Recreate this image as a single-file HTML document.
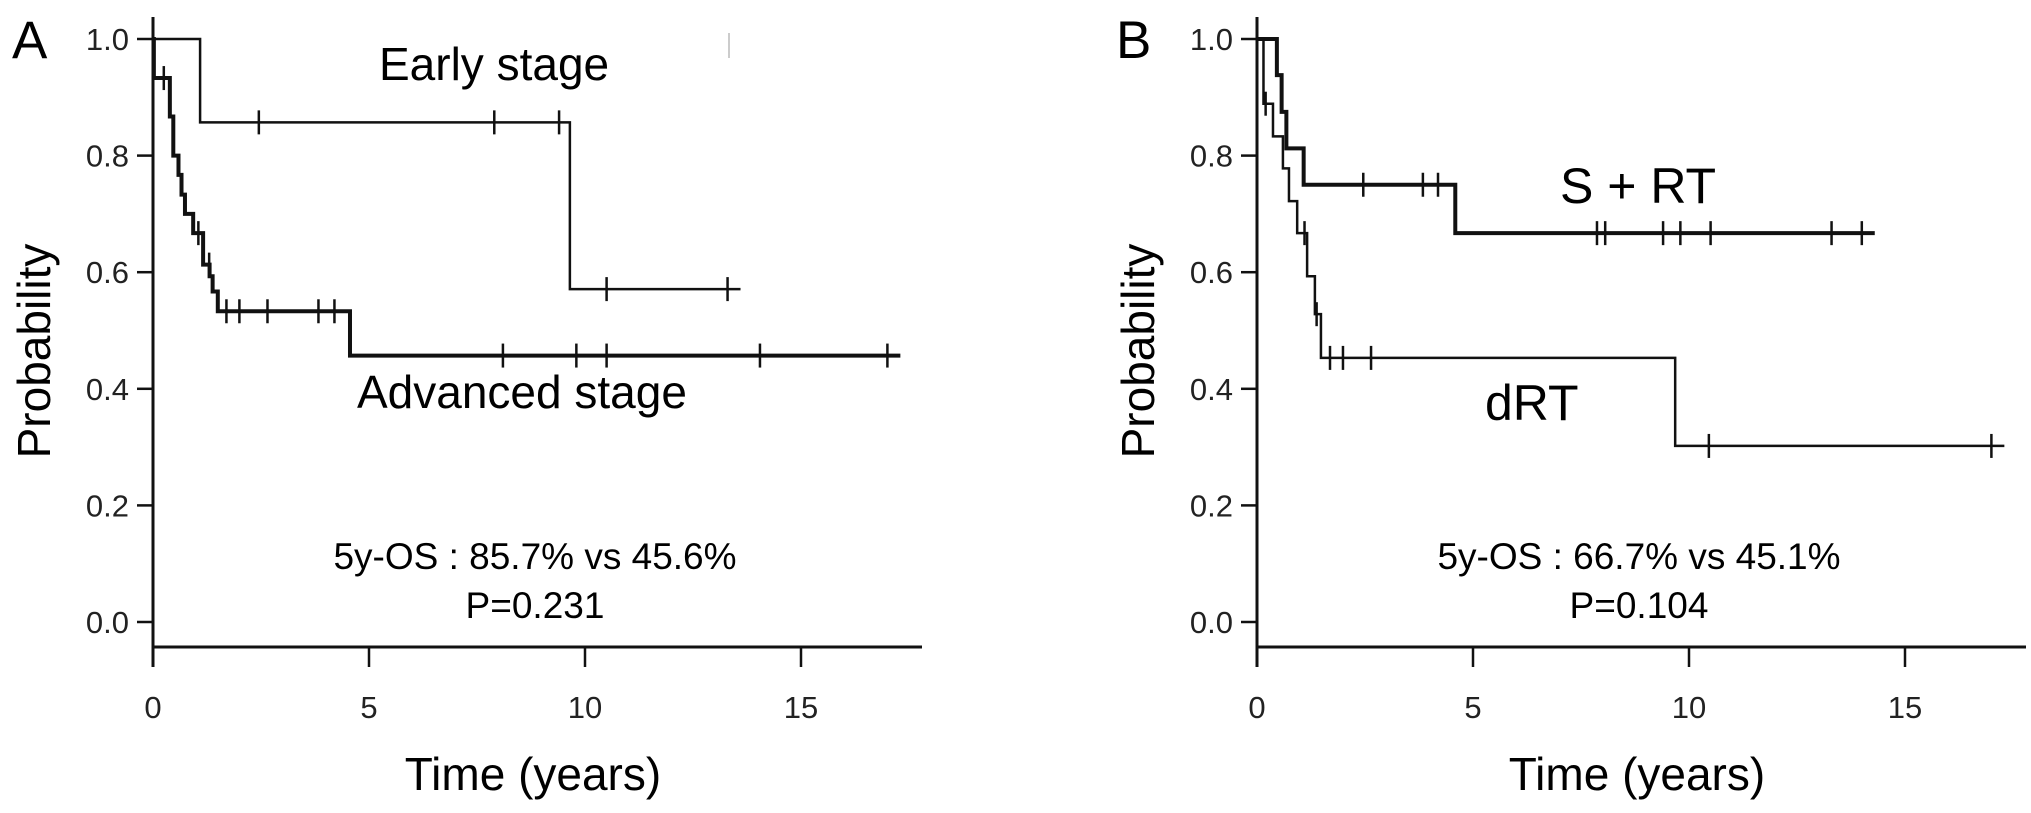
<!DOCTYPE html>
<html><head><meta charset="utf-8"><style>
html,body{margin:0;padding:0;background:#fff;}
svg{display:block;font-family:"Liberation Sans",Arial,sans-serif;}
</style></head><body>
<svg id="chart" width="2031" height="813" viewBox="0 0 2031 813" xmlns="http://www.w3.org/2000/svg">
<rect width="2031" height="813" fill="#fff"/>
<g id="pA"></g>
<g id="pB"></g>
</svg>
<script>
// ---------- data ----------
const xTicks = [0, 5, 10, 15];
const yTicks = [0.0, 0.2, 0.4, 0.6, 0.8, 1.0];
const yTickLabels = ["0.0", "0.2", "0.4", "0.6", "0.8", "1.0"];

const earlyT = [0, 1.09, 9.65];
const earlyS = [1.0, 0.857, 0.571];
const earlyEnd = 13.6;
const earlyCens = [2.45, 7.9, 9.4, 10.5, 13.3];

const advT = [0, 0.02, 0.39, 0.47, 0.59, 0.66, 0.74, 0.93, 1.16, 1.31, 1.38, 1.5, 4.56];
const advS = [1.0, 0.933, 0.867, 0.8, 0.767, 0.733, 0.7, 0.667, 0.613, 0.593, 0.567, 0.533, 0.457];
const advEnd = 17.3;
const advCens = [0.25, 1.05, 1.3, 1.7, 2.0, 2.65, 3.83, 4.2, 8.1, 9.8, 10.5, 14.05, 17.0];

const srtT = [0, 0.46, 0.57, 0.68, 1.08, 4.59];
const srtS = [1.0, 0.938, 0.875, 0.8125, 0.75, 0.667];
const srtEnd = 14.3;
const srtCens = [2.46, 3.84, 4.19, 7.87, 8.06, 9.4, 9.8, 10.5, 13.3, 14.0];

const drtT = [0, 0.15, 0.37, 0.6, 0.74, 0.93, 1.16, 1.34, 1.48, 9.68];
const drtS = [1.0, 0.889, 0.833, 0.778, 0.722, 0.667, 0.593, 0.528, 0.453, 0.302];
const drtEnd = 17.3;
const drtCens = [0.2, 1.1, 1.38, 1.69, 1.99, 2.64, 10.46, 17.0];

// ---------- drawing ----------
const NS = "http://www.w3.org/2000/svg";
const Y0 = 622, YH = 583, PXY = 43.2;
function mk(parent, tag, attrs, text) {
  const e = document.createElementNS(NS, tag);
  for (const k in attrs) e.setAttribute(k, attrs[k]);
  if (text !== undefined) e.textContent = text;
  parent.appendChild(e);
  return e;
}
function stepAt(T, S, t) { let v = S[0]; for (let i = 0; i < T.length; i++) if (T[i] <= t) v = S[i]; return v; }

function panel(g, ox, letter, series, stats, pval, labels) {
  const X = t => ox + t * PXY;
  const Y = p => Y0 - p * YH;
  let e;
  e = mk(g, "text", {x: ox - 141, y: 58, "font-size": 53}, letter);
  
  
  // axes
  e = mk(g, "line", {x1: ox, y1: 17, x2: ox, y2: 667, stroke: "#111", "stroke-width": 3});
  
  
  e = mk(g, "line", {x1: ox, y1: 647, x2: ox + 769, y2: 647, stroke: "#111", "stroke-width": 3});
  
  
  yTicks.forEach((v, i) => {
    e = mk(g, "line", {x1: ox - 16, y1: Y(v), x2: ox, y2: Y(v), stroke: "#111", "stroke-width": 2.5});
    
    
    e = mk(g, "text", {x: ox - 24, y: Y(v) + 11, "font-size": 31, "text-anchor": "end", fill: "#222"}, yTickLabels[i]);
    
    
  });
  xTicks.forEach(v => {
    e = mk(g, "line", {x1: X(v), y1: 647, x2: X(v), y2: 667, stroke: "#111", "stroke-width": 2.5});
    
    
    e = mk(g, "text", {x: X(v), y: 718, "font-size": 31, "text-anchor": "middle", fill: "#222"}, String(v));
    
    
  });
  e = mk(g, "text", {x: ox + 380, y: 790, "font-size": 46, "text-anchor": "middle"}, "Time (years)");
  
  
  e = mk(g, "text", {x: 0, y: 0, "font-size": 46, "text-anchor": "middle", transform: `translate(${ox - 103},351) rotate(-90)`}, "Probability");
  
  
  // series
  series.forEach(s => {
    let d = `M${X(0)},${Y(s.S[0])}`;
    for (let i = 1; i < s.T.length; i++) d += ` H${X(s.T[i])} V${Y(s.S[i])}`;
    d += ` H${X(s.end)}`;
    e = mk(g, "path", {d: d, fill: "none", stroke: "#111", "stroke-width": s.w});
    
    
    s.C.forEach(t => {
      const y = Y(stepAt(s.T, s.S, t));
      e = mk(g, "line", {x1: X(t), y1: y - 12, x2: X(t), y2: y + 12, stroke: "#111", "stroke-width": 2.5});
      
      
    });
  });
  labels.forEach(l => {
    e = mk(g, "text", {x: l.x, y: l.y, "font-size": l.fs}, l.text);
    
    
  });
  e = mk(g, "text", {x: ox + 382, y: 569, "font-size": 37, "text-anchor": "middle"}, stats);
  
  
  e = mk(g, "text", {x: ox + 382, y: 618, "font-size": 37, "text-anchor": "middle"}, pval);
  
  
}

panel(document.getElementById("pA"), 153, "A", [
  {name: "early-stage", T: earlyT, S: earlyS, end: earlyEnd, C: earlyCens, w: 2.5},
  {name: "advanced-stage", T: advT, S: advS, end: advEnd, C: advCens, w: 4}
], "5y-OS : 85.7% vs 45.6%", "P=0.231", [
  {text: "Early stage", x: 379, y: 80, fs: 46, name: "early-stage-label"},
  {text: "Advanced stage", x: 357, y: 408, fs: 46, name: "advanced-stage-label"}
]);
panel(document.getElementById("pB"), 1257, "B", [
  {name: "s-rt", T: srtT, S: srtS, end: srtEnd, C: srtCens, w: 4},
  {name: "drt", T: drtT, S: drtS, end: drtEnd, C: drtCens, w: 2.5}
], "5y-OS : 66.7% vs 45.1%", "P=0.104", [
  {text: "S + RT", x: 1560, y: 203, fs: 50, name: "s-rt-label"},
  {text: "dRT", x: 1485, y: 420, fs: 50, name: "drt-label"}
]);
const mark = mk(document.getElementById("pA"), "line", {x1: 729, y1: 33, x2: 729, y2: 58, stroke: "#ccc", "stroke-width": 2});


</script>
</body></html>
